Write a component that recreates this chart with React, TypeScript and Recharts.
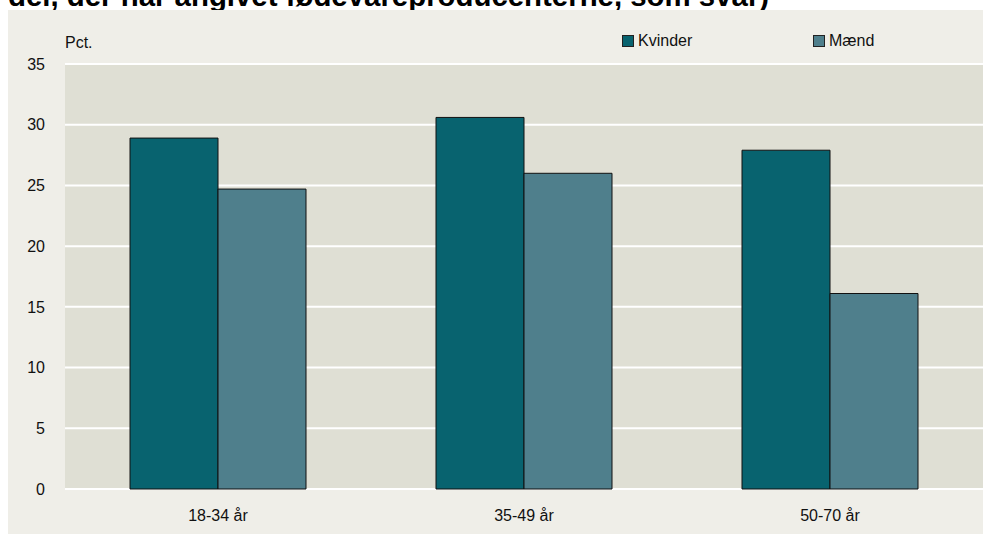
import React from 'react';
import { BarChart, Bar, XAxis, YAxis, CartesianGrid, Legend } from 'recharts';

const categories = ['18-34 år', '35-49 år', '50-70 år'];
const kvinder = [28.9, 30.6, 27.9];
const maend = [24.7, 26.0, 16.1];
const yTicks = [0, 5, 10, 15, 20, 25, 30, 35];
const titleText = 'del, der har angivet fødevareproducenterne, som svar)';

const data = categories.map((c, i) => ({ cat: c, Kvinder: kvinder[i], 'Mænd': maend[i] }));

const FONT = '"Liberation Sans", Arial, sans-serif';

const LegendContent = (props: any) => {
  const payload = props.payload || [];
  const lefts = [0, 191];
  return (
    <div style={{ position: 'relative', height: 20, fontFamily: FONT, fontSize: 16 }}>
      {payload.map((p: any, i: number) => (
        <div key={p.value} style={{ position: 'absolute', left: lefts[i], top: 0, display: 'flex', alignItems: 'center', whiteSpace: 'nowrap', color: '#111' }}>
          <span style={{ display: 'inline-block', width: 10, height: 10, background: p.color, border: '1px solid #222', marginRight: 4 }} />
          <span>{p.value}</span>
        </div>
      ))}
    </div>
  );
};

export default function App() {
  return (
    <div style={{ position: 'relative', width: 983, height: 534, overflow: 'hidden' }}>
      <style>{'html,body{margin:0;padding:0;overflow:hidden;}'}</style>
      <div style={{ position: 'absolute', left: 8, top: -19, fontFamily: FONT, fontWeight: 'bold', fontSize: 29.4, lineHeight: '29px', whiteSpace: 'nowrap', color: '#000' }}>
        {titleText}
      </div>
      <div style={{ position: 'absolute', left: 8, top: 10, width: 975, height: 524, background: '#efeee8' }}>
        <div style={{ position: 'absolute', left: 57, top: 24, fontFamily: FONT, fontSize: 16, color: '#111' }}>Pct.</div>
        <BarChart width={975} height={524} data={data} margin={{ top: 34, right: 0, bottom: 15, left: 0 }} barCategoryGap={65} barGap={0}>
          <CartesianGrid vertical={false} horizontal={true} stroke="#ffffff" strokeWidth={2} fill="#dfdfd4" />
          <XAxis dataKey="cat" axisLine={false} tickLine={false} tickSize={0} tickMargin={21} height={30} tick={{ fill: '#111', fontSize: 16, fontFamily: FONT }} />
          <YAxis domain={[0, 35]} ticks={yTicks} width={57} axisLine={false} tickLine={false} tickSize={0} tickMargin={20} tick={{ fill: '#111', fontSize: 16, fontFamily: FONT }} />
          <Legend verticalAlign="top" align="left" content={<LegendContent />} wrapperStyle={{ position: 'absolute', left: 614, top: 22, width: 300 }} />
          <Bar dataKey="Kvinder" fill="#08636f" stroke="#111" strokeWidth={1} isAnimationActive={false} />
          <Bar dataKey="Mænd" fill="#4f7f8c" stroke="#111" strokeWidth={1} isAnimationActive={false} />
        </BarChart>
      </div>
    </div>
  );
}
